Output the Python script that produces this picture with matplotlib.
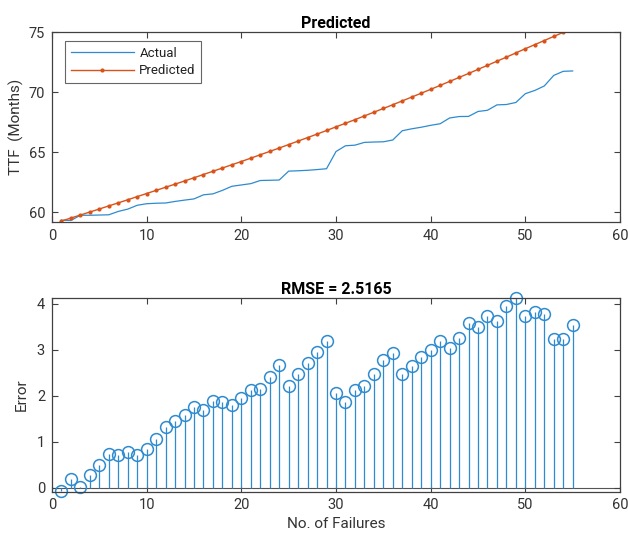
import matplotlib
matplotlib.use("Agg")
import matplotlib.pyplot as plt

plt.rcParams['font.family'] = ['Roboto', 'DejaVu Sans']

failures = list(range(1, 56))

predicted = [59.28, 59.53, 59.78, 60.03, 60.28, 60.54, 60.79, 61.05, 61.31, 61.57,
             61.83, 62.09, 62.35, 62.61, 62.88, 63.15, 63.42, 63.69, 63.96, 64.23,
             64.51, 64.79, 65.07, 65.35, 65.64, 65.93, 66.22, 66.51, 66.81, 67.11,
             67.41, 67.71, 68.02, 68.33, 68.64, 68.95, 69.27, 69.59, 69.91, 70.23,
             70.56, 70.89, 71.22, 71.55, 71.89, 72.23, 72.57, 72.91, 73.26, 73.61,
             73.95, 74.29, 74.63, 74.97, 75.30]

actual = [59.35, 59.33, 59.76, 59.76, 59.78, 59.80, 60.08, 60.27, 60.59, 60.72,
          60.76, 60.78, 60.91, 61.02, 61.12, 61.46, 61.54, 61.83, 62.17, 62.28,
          62.39, 62.65, 62.67, 62.69, 63.43, 63.46, 63.50, 63.56, 63.63, 65.06,
          65.54, 65.59, 65.82, 65.85, 65.87, 66.02, 66.79, 66.95, 67.08, 67.24,
          67.37, 67.85, 67.97, 67.98, 68.39, 68.49, 68.94, 68.97, 69.14, 69.87,
          70.14, 70.51, 71.39, 71.73, 71.76]

error = [-0.07, 0.20, 0.02, 0.27, 0.50, 0.74, 0.71, 0.78, 0.72, 0.85,
         1.07, 1.31, 1.44, 1.59, 1.76, 1.69, 1.88, 1.86, 1.79, 1.95,
         2.12, 2.14, 2.40, 2.66, 2.21, 2.47, 2.72, 2.95, 3.18, 2.05,
         1.87, 2.12, 2.20, 2.48, 2.77, 2.93, 2.48, 2.64, 2.83, 2.99,
         3.19, 3.04, 3.25, 3.57, 3.50, 3.74, 3.63, 3.94, 4.12, 3.74,
         3.81, 3.78, 3.24, 3.24, 3.54]

rmse_text = "RMSE = 2.5165"

BLUE = "#2E8BD0"
ORANGE = "#D95319"
AXC = "#404040"

fig = plt.figure(figsize=(6.28, 5.40), dpi=100)
W, H = 628, 540

def add_ax(l, t, r, b):
    return fig.add_axes([l / W, 1 - b / H, (r - l) / W, (b - t) / H])

ax1 = add_ax(52, 32, 620, 222)
ax2 = add_ax(52, 298, 620, 491.5)

def style(ax):
    for s in ax.spines.values():
        s.set_color(AXC)
        s.set_linewidth(0.9)
    ax.tick_params(direction='in', top=True, right=True, length=4, width=0.8,
                   colors=AXC, labelsize=10.5, labelcolor="#333333", pad=5)

# Top plot
ax1.plot(failures, actual, color=BLUE, lw=0.9, label="Actual")
ax1.plot(failures, predicted, color=ORANGE, lw=1.0, marker='.', markersize=4,
         label="Predicted")
ax1.set_xlim(0, 60)
ax1.set_ylim(59.2, 75)
ax1.set_xticks([0, 10, 20, 30, 40, 50, 60])
ax1.set_yticks([60, 65, 70, 75])
ax1.set_title("Predicted", fontsize=11.5, fontweight='semibold', pad=3)
ax1.set_ylabel("TTF  (Months)", fontsize=11, color="#333333", labelpad=3)
style(ax1)
leg = ax1.legend(loc='upper left', fontsize=9.5, handlelength=4.8,
                 frameon=True, fancybox=False, edgecolor=AXC,
                 borderpad=0.4, labelspacing=0.35, handletextpad=0.4,
                 bbox_to_anchor=(0.012, 0.985))
leg.get_frame().set_linewidth(0.8)
for t in leg.get_texts():
    t.set_color("#222222")

# Bottom plot
ml, sl, bl = ax2.stem(failures, error, basefmt=' ')
plt.setp(ml, marker='o', markersize=8.5, markerfacecolor='none',
         markeredgecolor=BLUE, markeredgewidth=1.1)
ml.set_clip_on(False)
plt.setp(sl, color=BLUE, linewidth=0.9)
ax2.axhline(0, color="#555555", lw=0.8, zorder=0)
ax2.set_xlim(0, 60)
ax2.set_ylim(-0.08, 4.12)
ax2.set_xticks([0, 10, 20, 30, 40, 50, 60])
ax2.set_yticks([0, 1, 2, 3, 4])
ax2.set_title(rmse_text, fontsize=11.5, fontweight='semibold', pad=3)
ax2.set_ylabel("Error", fontsize=11, color="#333333", labelpad=6)
ax2.set_xlabel("No. of Failures", fontsize=11, color="#333333", labelpad=3)
style(ax2)

fig.savefig("out.png", dpi=100)
